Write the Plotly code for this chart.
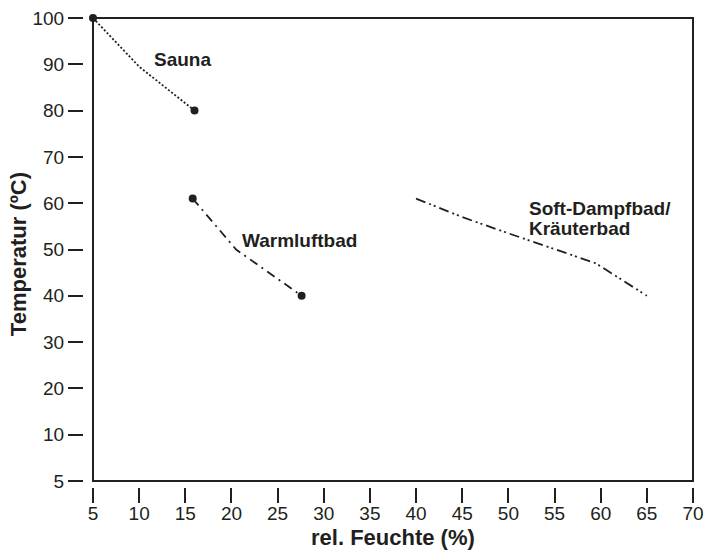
import plotly.graph_objects as go

# ---- data ----
sauna_x = [5, 10, 16]
sauna_y = [100, 89.5, 80]

warm_x = [15.8, 20.5, 27.6]
warm_y = [61, 50, 40]

soft_x = [40, 45, 50, 55, 59.5, 65]
soft_y = [61, 57, 53.5, 50, 47, 40]

x_ticks = [5, 10, 15, 20, 25, 30, 35, 40, 45, 50, 55, 60, 65, 70]
y_tickvals = [0, 10, 20, 30, 40, 50, 60, 70, 80, 90, 100]
y_ticktext = ["5", "10", "20", "30", "40", "50", "60", "70", "80", "90", "100"]

FONT = "Liberation Sans, Arial, Helvetica, sans-serif"
INK = "#231f20"

fig = go.Figure()

fig.add_trace(go.Scatter(
    x=sauna_x, y=sauna_y, mode="lines",
    line=dict(color=INK, width=1.8, dash="2px,2px"),
    cliponaxis=False, showlegend=False))
fig.add_trace(go.Scatter(
    x=[sauna_x[0], sauna_x[-1]], y=[sauna_y[0], sauna_y[-1]], mode="markers",
    marker=dict(color=INK, size=8), cliponaxis=False, showlegend=False))

fig.add_trace(go.Scatter(
    x=warm_x, y=warm_y, mode="lines",
    line=dict(color=INK, width=1.8, dash="9px,5px,2px,5px"),
    cliponaxis=False, showlegend=False))
fig.add_trace(go.Scatter(
    x=[warm_x[0], warm_x[-1]], y=[warm_y[0], warm_y[-1]], mode="markers",
    marker=dict(color=INK, size=8), cliponaxis=False, showlegend=False))

fig.add_trace(go.Scatter(
    x=soft_x, y=soft_y, mode="lines",
    line=dict(color=INK, width=1.8, dash="10px,4px,2px,3px,2px,4px"),
    cliponaxis=False, showlegend=False))

# frame
fig.add_shape(type="rect", xref="x domain", yref="y domain",
              x0=0, x1=1, y0=0, y1=1, line=dict(color=INK, width=2), layer="below")

W, H = 706, 553
ML, MR, MT, MB = 50, 13, 18, 40
pw, ph = W - ML - MR, H - MT - MB

fig.update_layout(
    width=W, height=H,
    margin=dict(l=ML, r=MR, t=MT, b=MB, autoexpand=False),
    plot_bgcolor="white", paper_bgcolor="white",
    font=dict(family=FONT, color=INK),
    xaxis=dict(
        range=[5, 70], domain=[(93 - ML) / pw, 1],
        anchor="free", position=(H - MB - 487) / ph,
        tickvals=x_ticks, ticks="outside", ticklen=15, tickwidth=2, tickcolor=INK,
        showline=False, showgrid=False, zeroline=False, automargin=False,
        ticklabelstandoff=-6,
        tickfont=dict(size=19, family=FONT, color=INK),
    ),
    yaxis=dict(
        range=[0, 100], domain=[(H - MB - 481) / ph, 1],
        anchor="free", position=(83 - ML) / pw,
        tickvals=y_tickvals, ticktext=y_ticktext,
        ticks="outside", ticklen=15, tickwidth=2, tickcolor=INK,
        showline=False, showgrid=False, zeroline=False, automargin=False,
        tickfont=dict(size=19, family=FONT, color=INK),
    ),
    annotations=[
        dict(text="Sauna", x=11.4, y=91, xref="x", yref="y", xanchor="left", yanchor="middle",
             showarrow=False, font=dict(size=19, family=FONT, color=INK, weight="bold")),
        dict(text="Warmluftbad", x=20.9, y=52, xref="x", yref="y", xanchor="left", yanchor="middle",
             showarrow=False, font=dict(size=19, family=FONT, color=INK, weight="bold")),
        dict(text="Soft-Dampfbad/", x=52, y=58.8, xref="x", yref="y", xanchor="left", yanchor="middle",
             showarrow=False, font=dict(size=19, family=FONT, color=INK, weight="bold")),
        dict(text="Kräuterbad", x=52, y=54.5, xref="x", yref="y", xanchor="left", yanchor="middle",
             showarrow=False, font=dict(size=19, family=FONT, color=INK, weight="bold")),
        dict(text="rel. Feuchte (%)", x=0.5, y=-0.122, xref="x domain", yref="y domain",
             xanchor="center", yanchor="middle", showarrow=False,
             font=dict(size=22, family=FONT, color=INK, weight="bold")),
        dict(text="Temperatur (ºC)", x=-0.125, y=0.49, xref="x domain", yref="y domain",
             xanchor="center", yanchor="middle", textangle=-90, showarrow=False,
             font=dict(size=22, family=FONT, color=INK, weight="bold")),
    ],
)

fig.write_html("out.html", config={"displayModeBar": False},
               post_script="document.body.style.margin='0';")
